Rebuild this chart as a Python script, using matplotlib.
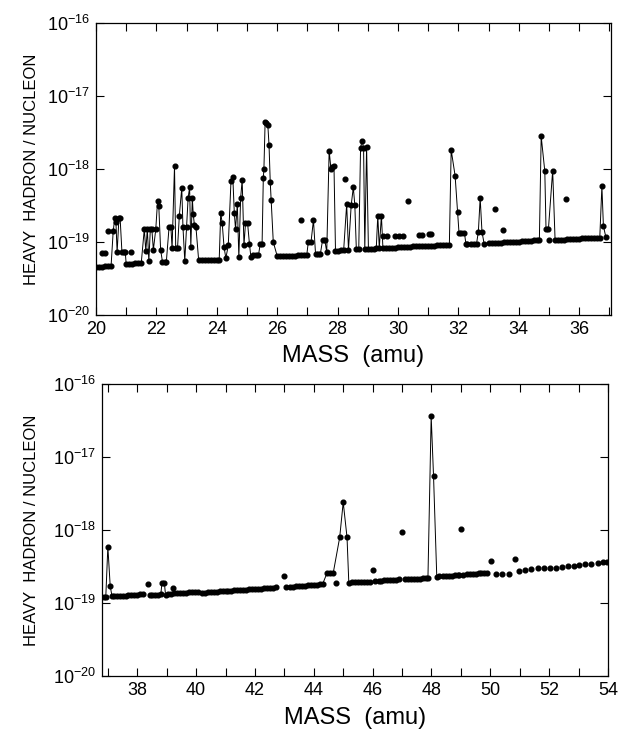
import numpy as np
import matplotlib.pyplot as plt
from matplotlib.ticker import FixedLocator, NullLocator

plt.rcParams['font.family'] = ['Liberation Sans', 'DejaVu Sans']
plt.rcParams['mathtext.default'] = 'regular'

# values are in units of 1e-19 heavy hadrons per nucleon
UNIT = 1e-19

# upper panel, 20 - 37 amu: connected scan
top_mass = [20.0, 20.1, 20.2, 20.3, 20.4, 20.5,
            20.57, 20.62, 20.66, 20.7, 20.76, 20.8, 20.86, 20.92, 20.97,
            21.0, 21.1, 21.2, 21.3, 21.4, 21.5,
            21.6, 21.65, 21.7, 21.75, 21.8, 21.85, 21.9, 21.98, 22.04, 22.08, 22.14, 22.2, 22.28, 22.33,
            22.42, 22.48, 22.52, 22.6, 22.64, 22.7, 22.76, 22.84, 22.88, 22.94, 23.0, 23.05, 23.1,
            23.14, 23.19, 23.22, 23.26, 23.31,
            23.4, 23.5, 23.6, 23.7, 23.8, 23.9, 24.0, 24.08,
            24.13, 24.18, 24.24, 24.3, 24.38, 24.47, 24.53, 24.58, 24.62, 24.68, 24.73, 24.79, 24.84,
            24.9, 24.95, 25.02, 25.08, 25.13,
            25.2, 25.3, 25.38,
            25.44, 25.5, 25.54, 25.56, 25.6, 25.64, 25.69, 25.73, 25.77, 25.8, 25.87,
            26.0, 26.1, 26.2, 26.3, 26.4, 26.5, 26.6, 26.7, 26.8, 26.9, 26.98,
            27.03, 27.12, 27.2, 27.27, 27.35, 27.43,
            27.5, 27.58, 27.64, 27.72, 27.78, 27.83, 27.88, 27.93,
            28.0, 28.1, 28.2,
            28.3, 28.36, 28.45, 28.52, 28.57, 28.62, 28.7,
            28.76, 28.81, 28.86, 28.9, 28.96, 29.02, 29.1, 29.2, 29.28,
            29.33, 29.38, 29.45, 29.5,
            29.6, 29.7, 29.8, 29.9, 30.0, 30.1, 30.2, 30.3, 30.4, 30.5, 30.6, 30.7, 30.8, 30.9,
            31.0, 31.1, 31.2, 31.3, 31.4, 31.5, 31.6, 31.7,
            31.76, 31.89, 31.97, 32.02, 32.1, 32.2, 32.25,
            32.3, 32.4, 32.5, 32.6,
            32.66, 32.72, 32.78, 32.85,
            33.0, 33.1, 33.2, 33.3, 33.4, 33.5, 33.6, 33.7, 33.8, 33.9, 34.0, 34.1, 34.2, 34.3,
            34.4, 34.5, 34.6, 34.68,
            34.74, 34.86, 34.9, 34.98, 35.12, 35.2,
            35.3, 35.4, 35.5, 35.6, 35.7, 35.8, 35.9, 36.0, 36.1, 36.2, 36.3, 36.4, 36.5, 36.6, 36.68,
            36.75, 36.8, 36.88]
top_val = [0.46, 0.46, 0.46, 0.47, 0.47, 0.47,
           1.40, 2.1, 1.9, 0.72, 2.1, 2.1, 0.72, 0.72, 0.72,
           0.50, 0.50, 0.50, 0.51, 0.51, 0.52,
           1.5, 0.75, 1.5, 0.55, 1.5, 1.5, 0.78, 1.5, 3.7, 3.1, 0.78, 0.54, 0.54, 0.54,
           1.6, 1.6, 0.82, 11.0, 0.82, 0.82, 2.3, 5.5, 1.6, 0.55, 1.6, 4.0, 5.6,
           0.85, 4.0, 2.4, 1.7, 1.6,
           0.56, 0.56, 0.56, 0.56, 0.57, 0.57, 0.57, 0.57,
           2.5, 1.8, 0.85, 0.60, 0.90, 6.9, 7.8, 2.5, 1.5, 3.3, 0.62, 4.0, 7.1,
           0.90, 1.8, 1.8, 0.95, 0.62,
           0.66, 0.66, 0.66,
           0.95, 0.95, 7.5, 10.0, 44.0, 42.0, 40.0, 21.0, 6.6, 3.8, 1.0,
           0.64, 0.64, 0.64, 0.65, 0.65, 0.65, 0.65, 0.66, 0.66, 0.67, 0.67,
           1.0, 1.0, 2.0, 0.68, 0.68, 0.69,
           1.05, 1.05, 0.72, 17.8, 10.0, 10.5, 11.0, 0.76,
           0.76, 0.77, 0.77,
           3.3, 0.78, 3.2, 5.6, 3.2, 0.80, 0.80,
           19.5, 24.5, 19.5, 0.80, 20.0, 0.81, 0.81, 0.81, 0.82,
           2.3, 0.82, 2.3, 0.83,
           0.83, 0.83, 0.84, 0.84, 0.85, 0.85, 0.85, 0.86, 0.86, 0.87, 0.87, 0.87, 0.88, 0.88,
           0.89, 0.89, 0.89, 0.90, 0.90, 0.91, 0.91, 0.92,
           18.2, 8.1, 2.6, 1.32, 1.32, 1.32, 0.93,
           0.93, 0.94, 0.94, 0.95,
           1.38, 4.0, 1.38, 0.95,
           0.96, 0.97, 0.97, 0.98, 0.98, 0.99, 0.99, 1.0, 1.0, 1.01, 1.01, 1.02, 1.02, 1.03,
           1.04, 1.05, 1.06, 1.07,
           28.0, 9.3, 1.51, 1.51, 9.5, 1.07,
           1.07, 1.08, 1.08, 1.09, 1.10, 1.10, 1.11, 1.11, 1.12, 1.12, 1.13, 1.13, 1.14, 1.14, 1.15,
           5.8, 1.66, 1.17]

# upper panel: single points off the scan line
top_extra_mass = [20.19, 20.3, 20.39, 21.16, 26.8, 28.23, 29.5, 29.62, 29.9, 30.02, 30.15,
                  30.32, 30.7, 30.78, 31.02, 31.09, 33.22, 33.49, 35.0, 35.56]
top_extra_val = [0.71, 0.71, 1.4, 0.72, 2.0, 7.4, 1.2, 1.2, 1.2, 1.2, 1.2,
                 3.7, 1.25, 1.25, 1.28, 1.28, 2.8, 1.45, 1.07, 3.9]

# lower panel, 37 - 54 amu: connected scan (None = break)
bot_mass = [36.88, 36.93, 37.0, 37.08, 37.14,
            37.2, 37.3, 37.4, 37.5, 37.6, 37.7, 37.8, 37.9, 38.0, 38.1, 38.2, 38.3,
            38.42, 38.5, 38.6, 38.7, 38.8, 38.84, 38.92, 38.96, 39.0,
            39.06, 39.15, 39.25, 39.35, 39.45, 39.55, 39.65, 39.75, 39.85, 39.95, 40.05, 40.12,
            40.2, 40.3, 40.4, 40.5, 40.6, 40.7, 40.8, 40.9, 41.0, 41.1, 41.2, 41.3, 41.4, 41.5,
            41.6, 41.7, 41.8, 41.9, 42.0, 42.1, 42.2, 42.3, 42.4, 42.5, 42.6, 42.7, 42.9,
            43.07, 43.2, 43.3, 43.4, 43.5, 43.6, 43.7, 43.8, 43.9, 44.0, 44.1, 44.2, 44.3,
            44.45, 44.55, 44.66, 44.88, 45.0, 45.13, 45.19,
            45.3, 45.4, 45.5, 45.6, 45.7, 45.8, 45.9, 45.95,
            46.07, 46.2, 46.3, 46.4, 46.5, 46.6, 46.7, 46.8, 46.9, 46.95,
            47.09, 47.2, 47.3, 47.4, 47.5, 47.6, 47.7, 47.8, 47.88,
            47.99, 48.07, 48.18,
            48.27, 48.4, 48.5, 48.6, 48.7, 48.8, 48.9, 48.95, 49.02,
            49.08, 49.2, 49.3, 49.4, 49.5, 49.6, 49.7, 49.8, 49.9]
bot_val = [1.20, 1.22, 5.9, 1.7, 1.25,
           1.25, 1.25, 1.25, 1.26, 1.26, 1.27, 1.28, 1.29, 1.30, 1.32, 1.33, None,
           1.29, 1.29, 1.30, 1.30, 1.31, 1.9, 1.9, 1.30, None,
           1.33, 1.34, 1.35, 1.36, 1.37, 1.38, 1.39, 1.40, 1.41, 1.42, 1.43, None,
           1.38, 1.39, 1.40, 1.41, 1.42, 1.43, 1.44, 1.45, 1.46, 1.47, 1.48, 1.49, 1.50, 1.51,
           1.52, 1.53, 1.54, 1.55, 1.56, 1.57, 1.58, 1.60, 1.61, 1.62, 1.63, 1.64, None,
           1.66, 1.67, 1.68, 1.69, 1.70, 1.71, 1.73, 1.74, 1.75, 1.77, 1.78, 1.80, 1.82,
           2.57, 2.57, 2.57, 7.9, 24.0, 7.9, 1.90,
           1.91, 1.92, 1.93, 1.94, 1.95, 1.96, 1.97, None,
           2.00, 2.01, 2.02, 2.04, 2.05, 2.06, 2.07, 2.08, 2.10, None,
           2.10, 2.11, 2.12, 2.14, 2.15, 2.16, 2.18, 2.19, 2.20,
           363.0, 55.0, 2.30,
           2.35, 2.36, 2.37, 2.37, 2.38, 2.39, 2.40, 2.40, None,
           2.45, 2.47, 2.49, 2.51, 2.53, 2.55, 2.57, 2.58, 2.60]

# lower panel: sparser points above 50 amu
bot_tail_mass = [50.19, 50.39, 50.64, 50.98, 51.19, 51.4, 51.63, 51.84, 52.03, 52.22, 52.43,
                 52.65, 52.85, 53.02, 53.22, 53.43, 53.66, 53.84, 53.98]
bot_tail_val = [2.5, 2.5, 2.5, 2.75, 2.8, 2.9, 3.0, 3.0, 3.05, 3.05, 3.1,
                3.2, 3.25, 3.35, 3.4, 3.45, 3.55, 3.65, 3.7]

# lower panel: single points off the scan line
bot_extra_mass = [38.35, 39.21, 43.0, 44.77, 46.0, 47.0, 49.0, 50.02, 50.85]
bot_extra_val = [1.82, 1.62, 2.34, 1.9, 2.8, 9.3, 10.2, 3.8, 4.0]

decades = [1e-20, 1e-19, 1e-18, 1e-17, 1e-16]
decade_labels = [r'$10^{-20}$', r'$10^{-19}$', r'$10^{-18}$', r'$10^{-17}$', r'$10^{-16}$']


def to_arr(vals):
    return np.array([np.nan if v is None else v for v in vals], dtype=float) * UNIT


def draw_panel(ax, mass, val, extra_m, extra_v, xlim, xticks, ylab_x, xlab_y):
    ax.plot(mass, to_arr(val), '-o', color='black', lw=0.7, ms=3.4)
    ax.plot(extra_m, to_arr(extra_v), 'o', color='black', ms=3.4)
    ax.set_yscale('log')
    ax.set_ylim(1e-20, 1e-16)
    ax.set_xlim(*xlim)
    ax.yaxis.set_major_locator(FixedLocator(decades))
    ax.yaxis.set_minor_locator(NullLocator())
    ax.set_yticklabels(decade_labels)
    ax.set_xticks(xticks)
    ax.set_xticklabels([str(t) if t % 2 == 0 else '' for t in xticks])
    ax.tick_params(direction='in', top=True, right=True, length=6, width=0.8,
                   labelsize=13, pad=4)
    for s in ax.spines.values():
        s.set_linewidth(0.9)
    ax.set_xlabel('MASS  (amu)', fontsize=17, va='center')
    ax.xaxis.set_label_coords(0.5, xlab_y)
    ax.set_ylabel('HEAVY  HADRON / NUCLEON', fontsize=12, va='center')
    ax.yaxis.set_label_coords(ylab_x, 0.5)


fig = plt.figure(figsize=(6.18, 7.32), dpi=100)
ax1 = fig.add_axes([0.1553, 0.5697, 0.8333, 0.3989])
ax2 = fig.add_axes([0.165, 0.0765, 0.8188, 0.3989])

draw_panel(ax1, top_mass, top_val, top_extra_mass, top_extra_val,
           (20, 37.05), list(range(20, 38)), -0.125, -0.14)
draw_panel(ax2, bot_mass, bot_val, bot_extra_mass, bot_extra_val,
           (36.8, 54.0), list(range(37, 55)), -0.14, -0.145)
ax2.plot(bot_tail_mass, to_arr(bot_tail_val), 'o', color='black', ms=3.4)

fig.savefig('out.png', dpi=100)
